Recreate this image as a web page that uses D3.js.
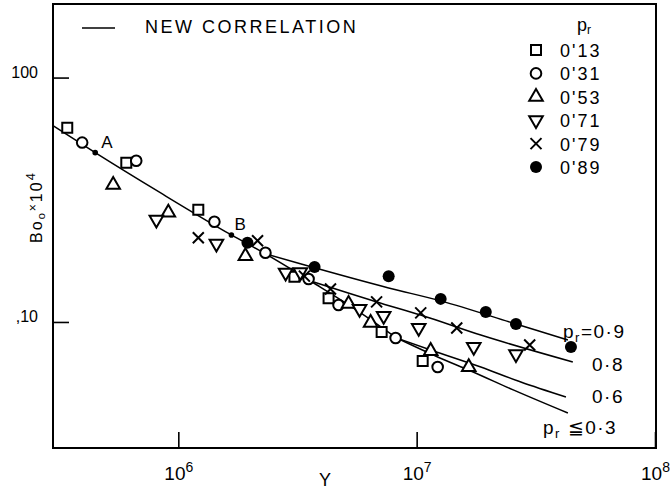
<!DOCTYPE html>
<html><head><meta charset="utf-8">
<script src="https://cdn.jsdelivr.net/npm/d3@7"></script>
<style>
body{margin:0;background:#fff;}
svg{display:block;font-family:"Liberation Sans",Arial,sans-serif;}
</style></head><body>
<svg id="chart" width="670" height="490"></svg>
<script>
// ---------- data ----------
const xTickValues = [1e6, 1e7, 1e8];
const xTickBase = "10";
const xTickExponents = ["6", "7", "8"];
const yTickValues = [10, 100];
const yTickLabels = [",10", "100"];
const legendLabels = ["0'13", "0'31", "0'53", "0'71", "0'79", "0'89"];
const legendShapes = ["square", "circle", "triangle", "triangleDown", "cross", "dot"];

// [Y, Bo x 10^4]
const pr013 = [[3.42e5,62.4],[6.05e5,44.8],[1.213e6,28.8],[3.07e6,15.3],[4.27e6,12.5],[7.13e6,9.10],[1.06e7,6.92]];
const pr031 = [[3.95e5,54.2],[6.66e5,45.7],[1.417e6,25.7],[2.32e6,19.2],[3.52e6,15.0],[4.70e6,11.74],[8.16e6,8.60],[1.225e7,6.54]];
const pr053 = [[5.33e5,36.4],[9.08e5,28.0],[1.912e6,18.6],[5.18e6,11.85],[6.41e6,9.91],[1.145e7,7.61],[1.654e7,6.54]];
const pr071 = [[8.09e5,26.2],[1.445e6,20.9],[2.82e6,15.9],[3.25e6,16.0],[5.76e6,11.31],[7.27e6,10.58],[1.02e7,9.45],[1.736e7,7.90],[2.61e7,7.39]];
const pr079 = [[1.213e6,22.1],[2.15e6,21.5],[3.38e6,15.4],[4.35e6,13.65],[6.79e6,12.08],[1.04e7,10.89],[1.473e7,9.45],[2.98e7,8.05]];
const pr089 = [[1.95e6,21.1],[3.73e6,16.8],[7.63e6,15.4],[1.261e7,12.43],[1.95e7,10.99],[2.61e7,9.81],[4.44e7,7.90]];

// correlation curves
const curveCommon = [[2.98e5,63.6],[4.48e5,49.3],[8.40e5,33.8],[1.67e6,22.7],[2.32e6,19.0],[3.80e6,14.2],[5.82e6,10.9],[8.24e6,8.60]];
const curve09 = [[2.32e6,19.0],[3.25e6,17.3],[7.63e6,13.78],[1.261e7,12.2],[2.61e7,9.81],[4.31e7,8.44]];
const curve08 = [[3.59e6,14.7],[6.79e6,12.08],[1.04e7,10.68],[1.858e7,8.84],[4.52e7,6.86]];
const curve06 = [[8.24e6,8.60],[1.145e7,7.68],[1.858e7,6.54],[2.735e7,5.68],[4.23e7,4.93]];
const curve03 = [[8.24e6,8.60],[1.225e7,7.19],[1.686e7,6.30],[2.556e7,5.26],[4.31e7,4.24]];
const markedPoints = [["A",4.48e5,49.3],["B",1.67e6,22.7]];
const curveLabels = ["=0·9", "0·8", "0·6", " ≦0·3"];

// ---------- drawing ----------
const svg = d3.select("#chart");
const P = {left:53, right:655, top:4, bottom:448};
const x = d3.scaleLog().domain([2.98e5, 1e8]).range([P.left, P.right]);
const y = d3.scaleLog().domain([3.05, 200]).range([P.bottom, P.top]);

svg.append("rect").attr("x",P.left).attr("y",P.top)
  .attr("width",P.right-P.left+1).attr("height",P.bottom-P.top)
  .attr("fill","none").attr("stroke","#000").attr("stroke-width",2);

// x axis
const gx = svg.append("g").attr("transform",`translate(0,${P.bottom})`)
  .call(d3.axisBottom(x).tickValues(xTickValues).tickSizeInner(-16).tickSizeOuter(0).tickFormat(""));
gx.select(".domain").remove();
gx.selectAll(".tick line").attr("stroke","#000").attr("stroke-width",1.6);
gx.selectAll(".tick text").remove();
gx.selectAll(".tick").each(function(d,i){
  const t = d3.select(this).append("text").attr("y",32).attr("text-anchor","middle")
    .attr("fill","#000").attr("font-size",19).attr("font-family","Liberation Sans, Arial, sans-serif");
  t.append("tspan").text(xTickBase);
  t.append("tspan").attr("dy",-8).attr("font-size",14).text(xTickExponents[i]);
});
svg.append("text").attr("x",325).attr("y",486).attr("text-anchor","middle")
  .attr("font-size",18).attr("fill","#000").text("Y");

// y axis
const gy = svg.append("g").attr("transform",`translate(${P.left},0)`)
  .call(d3.axisLeft(y).tickValues(yTickValues).tickSizeInner(-16).tickSizeOuter(0)
    .tickFormat((d,i)=>yTickLabels[i]));
gy.select(".domain").remove();
gy.selectAll(".tick line").attr("stroke","#000").attr("stroke-width",1.6);
gy.selectAll(".tick text").attr("x",-15).attr("dy",0).attr("font-size",16)
  .attr("fill","#000").attr("font-family","Liberation Sans, Arial, sans-serif");

const yl = svg.append("text").attr("transform","translate(42,207) rotate(-90)")
  .attr("text-anchor","middle").attr("font-size",16).attr("letter-spacing",2).attr("fill","#000");
yl.append("tspan").text("Bo");
yl.append("tspan").attr("font-size",11).attr("dy",3).text("o");
yl.append("tspan").attr("font-size",12).attr("dy",-8).text("×");
yl.append("tspan").attr("dy",5).text("10");
yl.append("tspan").attr("font-size",13).attr("dy",-7).text("4");

// curves
const line = d3.line().x(d=>x(d[0])).y(d=>y(d[1])).curve(d3.curveMonotoneX);
[curveCommon, curve09, curve08, curve06, curve03].forEach(c=>{
  svg.append("path").attr("d",line(c)).attr("fill","none").attr("stroke","#000").attr("stroke-width",1.5);
});

// A, B points
markedPoints.forEach((p,i)=>{
  svg.append("circle").attr("cx",x(p[1])).attr("cy",y(p[2])).attr("r",2.8).attr("fill","#000");
  svg.append("text").attr("x",x(p[1])+ (i===0?6:3)).attr("y",y(p[2])-5)
    .attr("font-size",17).attr("fill","#000").text(p[0]);
});

// markers
function marker(g, shape, cx, cy){
  const sw = 2;
  if (shape==="square") {
    g.append("path").attr("d",d3.symbol().type(d3.symbolSquare).size(100)())
      .attr("transform",`translate(${cx},${cy})`).attr("fill","#fff").attr("stroke","#000").attr("stroke-width",sw);
  } else if (shape==="circle") {
    g.append("path").attr("d",d3.symbol().type(d3.symbolCircle).size(88)())
      .attr("transform",`translate(${cx},${cy})`).attr("fill","#fff").attr("stroke","#000").attr("stroke-width",sw);
  } else if (shape==="triangle") {
    g.append("path").attr("d",d3.symbol().type(d3.symbolTriangle).size(80)())
      .attr("transform",`translate(${cx},${cy})`).attr("fill","#fff").attr("stroke","#000").attr("stroke-width",sw);
  } else if (shape==="triangleDown") {
    g.append("path").attr("d",d3.symbol().type(d3.symbolTriangle).size(80)())
      .attr("transform",`translate(${cx},${cy}) rotate(180)`).attr("fill","#fff").attr("stroke","#000").attr("stroke-width",sw);
  } else if (shape==="cross") {
    const s=5.5;
    g.append("path").attr("d",`M${-s},${-s}L${s},${s}M${-s},${s}L${s},${-s}`)
      .attr("transform",`translate(${cx},${cy})`).attr("fill","none").attr("stroke","#000").attr("stroke-width",2);
  } else {
    g.append("circle").attr("cx",cx).attr("cy",cy).attr("r",6).attr("fill","#000");
  }
}
const allSeries = [pr013, pr031, pr053, pr071, pr079, pr089];
allSeries.forEach((s,i)=>{
  const g = svg.append("g");
  s.forEach(d=>marker(g, legendShapes[i], x(d[0]), y(d[1])));
});

// legend: NEW CORRELATION
svg.append("line").attr("x1",82).attr("x2",115).attr("y1",28).attr("y2",28)
  .attr("stroke","#000").attr("stroke-width",1.6);
svg.append("text").attr("x",145).attr("y",33).attr("font-size",18).attr("letter-spacing",2.5)
  .attr("fill","#000").text("NEW CORRELATION");

// legend: p_r
const hdr = svg.append("text").attr("x",577).attr("y",31).attr("font-size",18).attr("fill","#000");
hdr.append("tspan").text("p");
hdr.append("tspan").attr("font-size",12).attr("dy",3).text("r");
legendLabels.forEach((lab,i)=>{
  const cy = 50 + i*23.4;
  const g = svg.append("g");
  marker(g, legendShapes[i], 536, cy);
  svg.append("text").attr("x",560).attr("y",cy+7).attr("font-size",18).attr("letter-spacing",2)
    .attr("fill","#000").text(lab);
});

// curve labels
const lp = [[563,338,true],[592,371,false],[592,403,false],[543,434,true]];
curveLabels.forEach((lab,i)=>{
  const t = svg.append("text").attr("x",lp[i][0]).attr("y",lp[i][1]).attr("font-size",19)
    .attr("letter-spacing",1.5).attr("fill","#000");
  if (lp[i][2]) {
    t.append("tspan").text("p");
    t.append("tspan").attr("font-size",13).attr("dy",4).text("r");
    t.append("tspan").attr("dy",-4).text(lab);
  } else t.text(lab);
});
</script>
</body></html>
